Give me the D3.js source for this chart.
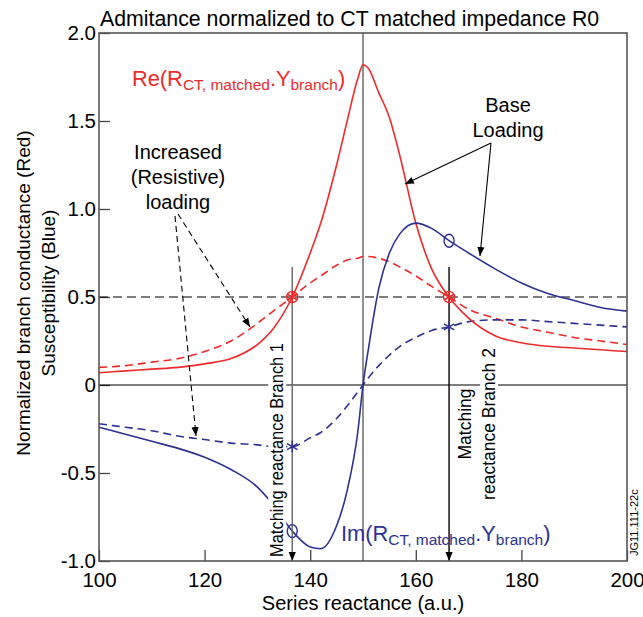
<!DOCTYPE html>
<html>
<head>
<meta charset="utf-8">
<script src="https://cdn.jsdelivr.net/npm/d3@7"></script>
<style>
  body { margin: 0; background: #fff; }
  svg text { font-family: "Liberation Sans", Arial, sans-serif; }
</style>
</head>
<body>
<script>
// series reactance grid (a.u.)
var xVals = [100,105,110,115,120,125,130,133,136.6,140,142,145,147,149,150,151,153,155,157,160,163,166.3,170,175,180,185,190,195,200];
// Re, base loading (solid red)
var reBase = [0.07,0.08,0.09,0.10,0.12,0.15,0.23,0.32,0.5,0.75,0.92,1.25,1.5,1.74,1.82,1.80,1.66,1.52,1.30,0.92,0.66,0.5,0.38,0.28,0.24,0.22,0.21,0.20,0.19];
// Re, increased loading (dashed red)
var reInc = [0.10,0.11,0.13,0.15,0.19,0.25,0.35,0.42,0.5,0.58,0.62,0.68,0.71,0.72,0.73,0.73,0.72,0.70,0.67,0.62,0.56,0.5,0.43,0.38,0.33,0.30,0.27,0.25,0.23];
// Im, base loading (solid blue)
var imBase = [-0.24,-0.28,-0.32,-0.36,-0.41,-0.48,-0.58,-0.68,-0.83,-0.92,-0.93,-0.8,-0.6,-0.27,0,0.2,0.55,0.75,0.86,0.92,0.89,0.82,0.75,0.66,0.58,0.52,0.48,0.44,0.42];
// Im, increased loading (dashed blue)
var imInc = [-0.22,-0.24,-0.26,-0.29,-0.31,-0.33,-0.34,-0.35,-0.35,-0.3,-0.27,-0.19,-0.12,-0.04,0,0.04,0.11,0.17,0.22,0.27,0.31,0.33,0.36,0.37,0.37,0.36,0.35,0.34,0.33];

var xTicks = [100,120,140,160,180,200];
var yTicks = [-1.0,-0.5,0,0.5,1.0,1.5,2.0];
var yTickLabels = ["-1.0","-0.5","0","0.5","1.0","1.5","2.0"];

var match1 = 136.6, match2 = 166.3;   // matching reactances
var redMarks = [[match1,0.5],[match2,0.5]];
var blueCircles = [[match1,-0.83],[match2,0.82]];
var blueStars = [[match1,-0.35],[match2,0.33]];

var W = 643, H = 617;
var margin = {top: 33, right: 16, bottom: 56, left: 99};
var width = W - margin.left - margin.right,
    height = H - margin.top - margin.bottom;

var svg = d3.select("body").append("svg")
  .attr("width", W).attr("height", H);

var defs = svg.append("defs");
defs.append("marker").attr("id", "arr")
  .attr("viewBox", "0 0 10 10").attr("refX", 10).attr("refY", 5)
  .attr("markerWidth", 9).attr("markerHeight", 9)
  .attr("markerUnits", "userSpaceOnUse")
  .attr("orient", "auto")
  .append("path").attr("d", "M0,1 L10,5 L0,9 Z").attr("fill", "#000");

var g = svg.append("g").attr("transform", "translate(" + margin.left + "," + margin.top + ")");

var x = d3.scaleLinear().domain([100, 200]).range([0, width]);
var y = d3.scaleLinear().domain([-1, 2]).range([height, 0]);

// axes (ticks point inward)
g.append("g").attr("transform", "translate(0," + height + ")")
  .call(d3.axisBottom(x).tickValues(xTicks).tickSizeInner(-11).tickSizeOuter(0).tickPadding(11).tickFormat(d3.format("d")))
  .call(function(a) {
    a.select(".domain").remove();
    a.selectAll("line").attr("stroke", "#444").attr("stroke-width", 1.3);
    a.selectAll("text").attr("font-size", 20.5).attr("fill", "#000");
  });

g.append("g")
  .call(d3.axisLeft(y).tickValues(yTicks).tickSizeInner(-11).tickSizeOuter(0).tickPadding(3)
        .tickFormat(function(d, i) { return yTickLabels[i]; }))
  .call(function(a) {
    a.select(".domain").remove();
    a.selectAll("line").attr("stroke", "#444").attr("stroke-width", 1.3);
    a.selectAll("text").attr("font-size", 20.5).attr("fill", "#000");
  });

// reference lines
g.append("line").attr("x1", 0).attr("x2", width).attr("y1", y(0.5)).attr("y2", y(0.5))
  .attr("stroke", "#000").attr("stroke-width", 1.2).attr("stroke-dasharray", "9,5");
g.append("line").attr("x1", 0).attr("x2", width).attr("y1", y(0)).attr("y2", y(0))
  .attr("stroke", "#000").attr("stroke-width", 1.2);
g.append("line").attr("x1", x(150)).attr("x2", x(150)).attr("y1", 0).attr("y2", height)
  .attr("stroke", "#555").attr("stroke-width", 1.3);

// curves
var line = d3.line().curve(d3.curveMonotoneX)
  .x(function(d) { return x(d[0]); }).y(function(d) { return y(d[1]); });
function pts(vals) { return xVals.map(function(v, i) { return [v, vals[i]]; }); }

var red = "#ee2a2a", blue = "#2e3192";
g.append("path").attr("d", line(pts(reInc))).attr("fill", "none").attr("stroke", red).attr("stroke-width", 1.6).attr("stroke-dasharray", "8,5");
g.append("path").attr("d", line(pts(imInc))).attr("fill", "none").attr("stroke", blue).attr("stroke-width", 1.6).attr("stroke-dasharray", "8,5");
g.append("path").attr("d", line(pts(reBase))).attr("fill", "none").attr("stroke", red).attr("stroke-width", 1.6);
g.append("path").attr("d", line(pts(imBase))).attr("fill", "none").attr("stroke", blue).attr("stroke-width", 1.6);

// matching reactance text, with white backing that breaks lines behind it
function vtext(lines, cx, cy, size, len) {
  var t = g.append("g").attr("transform", "translate(" + cx + "," + cy + ") rotate(-90)");
  lines.forEach(function(s, i) {
    var tx = t.append("text").attr("x", 0).attr("y", i * 24).attr("font-size", size)
      .attr("text-anchor", "middle").attr("fill", "#000").text(s);
    if (len && len[i]) tx.attr("textLength", len[i]).attr("lengthAdjust", "spacingAndGlyphs");
    var bb = tx.node().getBBox();
    t.insert("rect", "text").attr("x", bb.x - 2).attr("y", bb.y + 1).attr("width", bb.width + 4).attr("height", bb.height - 2).attr("fill", "#fff");
  });
}
vtext(["Matching reactance Branch 1"], x(match1) - 9, 450 - margin.top, 17.5, [214]);
vtext(["Matching", "reactance Branch 2"], x(match2) + 22, 424 - margin.top, 17.5);

// branch lines with arrows
[match1, match2].forEach(function(m, i) {
  g.append("line").attr("x1", x(m)).attr("x2", x(m)).attr("y1", y(0.67)).attr("y2", height)
    .attr("stroke", i === 0 ? "#666" : "#000").attr("stroke-width", 1.4).attr("marker-end", "url(#arr)");
});

// markers
g.selectAll(".rc").data(redMarks).enter().append("circle")
  .attr("cx", function(d) { return x(d[0]); }).attr("cy", function(d) { return y(d[1]); })
  .attr("r", 5.5).attr("fill", "none").attr("stroke", red).attr("stroke-width", 1.4);
g.selectAll(".bc").data(blueCircles).enter().append("ellipse")
  .attr("cx", function(d) { return x(d[0]); }).attr("cy", function(d) { return y(d[1]); })
  .attr("rx", 5).attr("ry", 6.5).attr("fill", "none").attr("stroke", blue).attr("stroke-width", 1.4);
function asterisk(sel, data, color) {
  sel.selectAll(null).data(data).enter().append("path")
    .attr("transform", function(d) { return "translate(" + x(d[0]) + "," + y(d[1]) + ")"; })
    .attr("d", "M0,-6V6M-5.2,-3L5.2,3M-5.2,3L5.2,-3")
    .attr("stroke", color).attr("stroke-width", 1.5).attr("fill", "none");
}
asterisk(g, redMarks, red);
asterisk(g, blueStars, blue);

// frame
g.append("rect").attr("width", width).attr("height", height).attr("fill", "none")
  .attr("stroke", "#555").attr("stroke-width", 1.6);

// annotation arrows (absolute coords)
var ann = svg.append("g");
function arrow(x1, y1, x2, y2, dashed) {
  ann.append("line").attr("x1", x1).attr("y1", y1).attr("x2", x2).attr("y2", y2)
    .attr("stroke", "#000").attr("stroke-width", 1.1)
    .attr("stroke-dasharray", dashed ? "6,4" : null)
    .attr("marker-end", "url(#arr)");
}
arrow(178, 214, 250, 327, true);
arrow(175, 216, 196, 436, true);
arrow(491, 143, 405, 184, false);
arrow(491, 143, 480, 256, false);

// texts
function label(txt, tx, ty, size, anchor, color) {
  return svg.append("text").attr("x", tx).attr("y", ty).attr("font-size", size)
    .attr("text-anchor", anchor || "start").attr("fill", color || "#000").text(txt);
}
label("Admitance normalized to CT matched impedance R0", 100, 26, 21.3);
label("Increased", 178, 159, 20, "middle");
label("(Resistive)", 178, 184, 20, "middle");
label("loading", 178, 209, 20, "middle");
label("Base", 508, 112, 20, "middle");
label("Loading", 508, 137, 20, "middle");
label("Series reactance (a.u.)", 363, 610, 20, "middle");

function formula(prefix, tx, ty, color) {
  var t = svg.append("text").attr("x", tx).attr("y", ty).attr("font-size", 21.8).attr("fill", color);
  t.append("tspan").text(prefix + "(R");
  t.append("tspan").attr("font-size", 15.5).attr("dy", 4).text("CT, matched");
  t.append("tspan").attr("dy", -4).text(".Y");
  t.append("tspan").attr("font-size", 15.5).attr("dy", 4).text("branch");
  t.append("tspan").attr("dy", -4).text(")");
}
formula("Re", 132, 86, red);
formula("Im", 341, 541, blue);

var yl = svg.append("g").attr("transform", "translate(30,293) rotate(-90)");
yl.append("text").attr("text-anchor", "middle").attr("font-size", 19).text("Normalized branch conductance (Red)");
yl.append("text").attr("y", 25).attr("text-anchor", "middle").attr("font-size", 19).text("Susceptibility (Blue)");

svg.append("text").attr("transform", "translate(638,556) rotate(-90)")
  .attr("font-size", 11).text("JG11.111-22c");
</script>
</body>
</html>
